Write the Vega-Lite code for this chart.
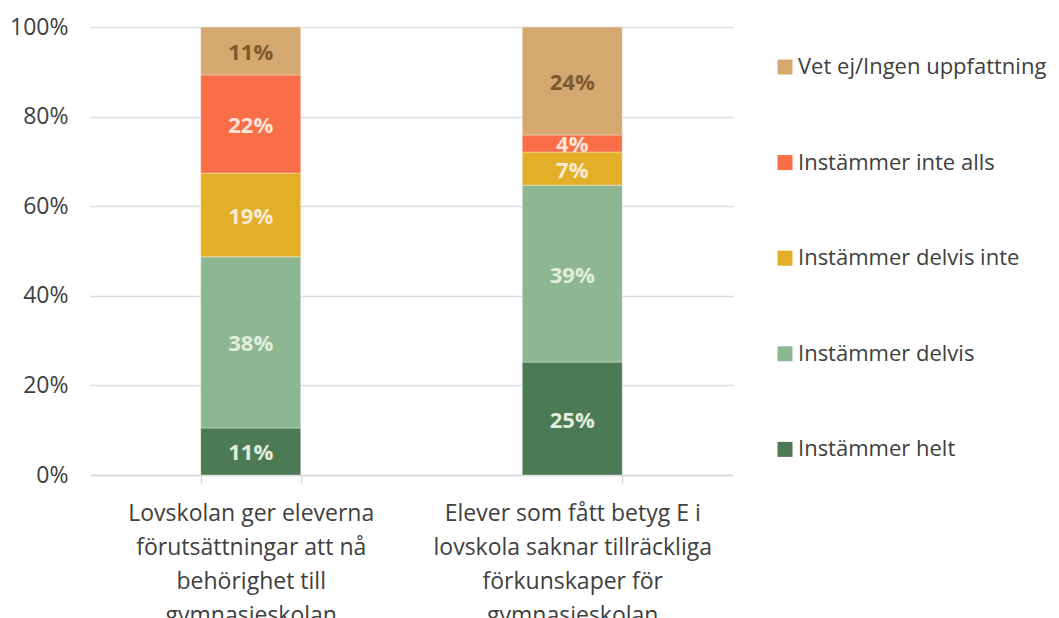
{
  "$schema": "https://vega.github.io/schema/vega-lite/v6.json",
  "width": 643,
  "height": 448,
  "autosize": {"type": "none"},
  "padding": {"left": 90, "top": 27, "right": 326, "bottom": 143},
  "background": "#ffffff",
  "config": {"view": {"stroke": null}, "font": "Open Sans"},
  "data": {
    "values": [
      {"fraga": "Lovskolan ger eleverna förutsättningar att nå behörighet till gymnasieskolan", "svar": "Instämmer helt", "rank": 1, "andel": 10.5, "etikett": "11%"},
      {"fraga": "Lovskolan ger eleverna förutsättningar att nå behörighet till gymnasieskolan", "svar": "Instämmer delvis", "rank": 2, "andel": 38.2, "etikett": "38%"},
      {"fraga": "Lovskolan ger eleverna förutsättningar att nå behörighet till gymnasieskolan", "svar": "Instämmer delvis inte", "rank": 3, "andel": 18.7, "etikett": "19%"},
      {"fraga": "Lovskolan ger eleverna förutsättningar att nå behörighet till gymnasieskolan", "svar": "Instämmer inte alls", "rank": 4, "andel": 21.9, "etikett": "22%"},
      {"fraga": "Lovskolan ger eleverna förutsättningar att nå behörighet till gymnasieskolan", "svar": "Vet ej/Ingen uppfattning", "rank": 5, "andel": 10.7, "etikett": "11%"},
      {"fraga": "Elever som fått betyg E i lovskola saknar tillräckliga förkunskaper för gymnasieskolan", "svar": "Instämmer helt", "rank": 1, "andel": 25.2, "etikett": "25%"},
      {"fraga": "Elever som fått betyg E i lovskola saknar tillräckliga förkunskaper för gymnasieskolan", "svar": "Instämmer delvis", "rank": 2, "andel": 39.5, "etikett": "39%"},
      {"fraga": "Elever som fått betyg E i lovskola saknar tillräckliga förkunskaper för gymnasieskolan", "svar": "Instämmer delvis inte", "rank": 3, "andel": 7.4, "etikett": "7%"},
      {"fraga": "Elever som fått betyg E i lovskola saknar tillräckliga förkunskaper för gymnasieskolan", "svar": "Instämmer inte alls", "rank": 4, "andel": 3.8, "etikett": "4%"},
      {"fraga": "Elever som fått betyg E i lovskola saknar tillräckliga förkunskaper för gymnasieskolan", "svar": "Vet ej/Ingen uppfattning", "rank": 5, "andel": 24.1, "etikett": "24%"}
    ]
  },
  "transform": [
    {"stack": "andel", "groupby": ["fraga"], "sort": [{"field": "rank", "order": "ascending"}], "as": ["y0", "y1"]},
    {"calculate": "(datum.y0 + datum.y1) / 2", "as": "ymid"}
  ],
  "encoding": {
    "x": {
      "field": "fraga",
      "type": "nominal",
      "sort": null,
      "title": null,
      "scale": {"paddingInner": 0.689, "paddingOuter": 0.3445},
      "axis": {
        "labelAngle": 0,
        "labelFont": "Open Sans",
        "labelFontSize": 23,
        "labelColor": "#404040",
        "labelLineHeight": 34,
        "labelPadding": 19,
        "labelBaseline": "top",
        "domainColor": "#D9D9D9",
        "domainWidth": 1.5,
        "tickColor": "#D9D9D9",
        "tickWidth": 1.5,
        "tickSize": 8,
        "tickBand": "extent",
        "labelLimit": 0,
        "labelExpr": "datum.value == 'Lovskolan ger eleverna förutsättningar att nå behörighet till gymnasieskolan' ? ['Lovskolan ger eleverna', 'förutsättningar att nå', 'behörighet till', 'gymnasieskolan'] : datum.value == 'Elever som fått betyg E i lovskola saknar tillräckliga förkunskaper för gymnasieskolan' ? ['Elever som fått betyg E i', 'lovskola saknar tillräckliga', 'förkunskaper för', 'gymnasieskolan'] : ''"
      }
    }
  },
  "layer": [
    {
      "mark": {"type": "bar", "stroke": "#ffffff", "strokeWidth": 0.6, "strokeOpacity": 0.6},
      "encoding": {
        "y": {
          "field": "y0",
          "type": "quantitative",
          "title": null,
          "scale": {"domain": [0, 100], "nice": false},
          "axis": {
            "values": [0, 20, 40, 60, 80, 100],
            "labelExpr": "datum.value + '%'",
            "labelFont": "Open Sans",
            "labelFontSize": 23,
            "labelColor": "#404040",
            "labelPadding": 22,
            "domain": false,
            "ticks": false,
            "gridColor": "#D9DEDE",
            "gridWidth": 1.5
          }
        },
        "y2": {"field": "y1"},
        "color": {
          "field": "svar",
          "type": "nominal",
          "scale": {
            "domain": ["Vet ej/Ingen uppfattning", "Instämmer inte alls", "Instämmer delvis inte", "Instämmer delvis", "Instämmer helt"],
            "range": ["#D4A86E", "#F96E47", "#E3AE28", "#8DB793", "#4B7A55"]
          },
          "legend": {
            "title": null,
            "orient": "none",
            "legendX": 684,
            "legendY": 29,
            "symbolType": "square",
            "symbolSize": 225,
            "symbolStrokeWidth": 0,
            "labelFont": "Open Sans",
            "labelFontSize": 22,
            "labelColor": "#404040",
            "labelOffset": 2,
            "rowPadding": 73.6,
            "labelLimit": 400
          }
        }
      }
    },
    {
      "mark": {"type": "text", "font": "Open Sans", "fontSize": 22, "fontWeight": "bold", "baseline": "middle", "align": "center", "dy": 2},
      "encoding": {
        "y": {"field": "ymid", "type": "quantitative"},
        "text": {"field": "etikett", "type": "nominal"},
        "color": {
          "field": "svar",
          "type": "nominal",
          "scale": {
            "domain": ["Vet ej/Ingen uppfattning", "Instämmer inte alls", "Instämmer delvis inte", "Instämmer delvis", "Instämmer helt"],
            "range": ["#7D5A2F", "#FCE4D8", "#FCEBD2", "#E2EEDD", "#E2EEDD"]
          },
          "legend": null
        }
      }
    }
  ],
  "resolve": {"scale": {"color": "independent"}}
}
